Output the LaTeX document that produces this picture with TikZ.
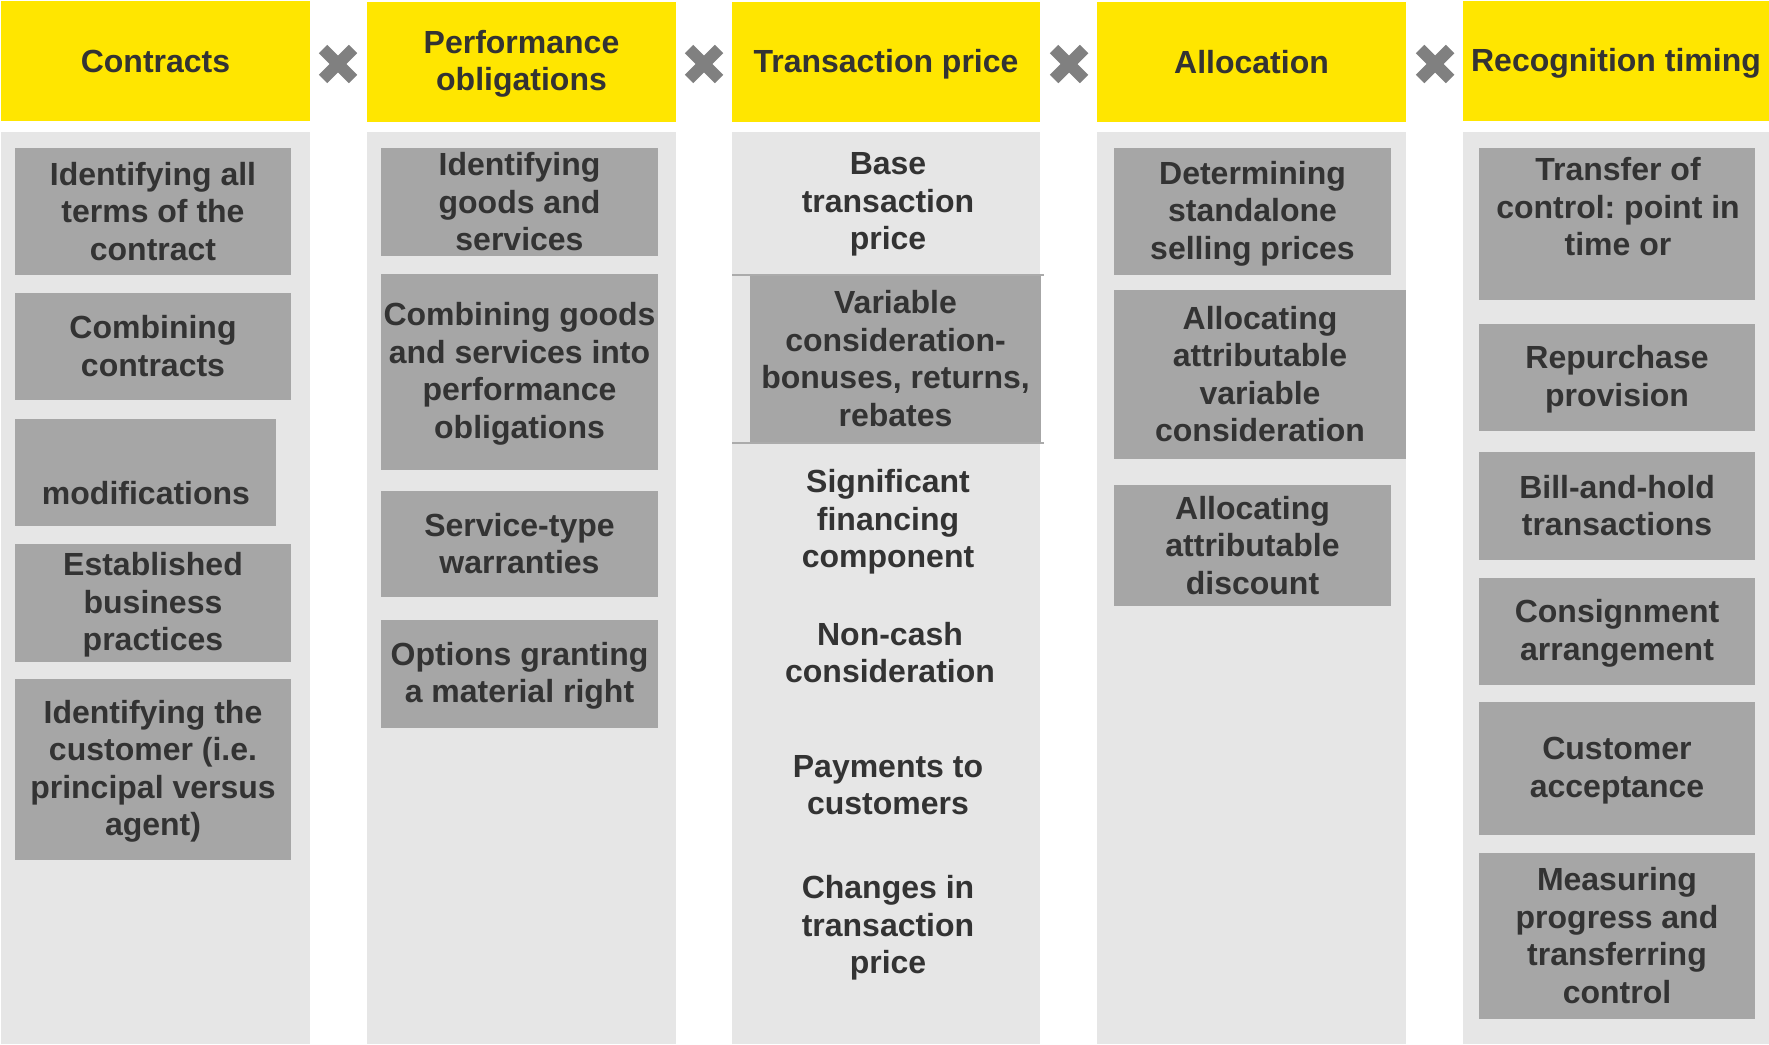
\documentclass[tikz,border=0pt]{standalone}
\usepackage{fontspec}
\setmainfont{Liberation Sans}
\frenchspacing
\definecolor{eyyellow}{HTML}{FFE600}
\definecolor{colbg}{HTML}{E6E6E6}
\definecolor{itembg}{HTML}{A6A6A6}
\definecolor{inkc}{HTML}{333333}
\definecolor{crossc}{HTML}{808080}
\definecolor{rulec}{HTML}{ABABAB}
% fixed ascent of the first line and descent of the last line
\newcommand\lines[1]{\rule{0pt}{27pt}#1\rule[-5pt]{0pt}{5pt}}
% name, fill style, x1, y1, x2, y2, text
\newcommand\tile[7]{%
  \node[lbl, #2, minimum width={(#5-#3)*1pt}, minimum height={(#6-#4)*1pt}]
    (#1) at ({(#3+#5)/2},{(#4+#6)/2}) {\lines{#7}};}
% cross sign between two headings
\newcommand\crossmark[2]{%
  \coordinate (#1) at (#2,64);
  \draw[crossline] ([shift={(-15,-15)}]#1) -- ([shift={(15,15)}]#1);
  \draw[crossline] ([shift={(-15,15)}]#1) -- ([shift={(15,-15)}]#1);}
\begin{document}
\begin{tikzpicture}[x=1pt,y=-1pt,
  lbl/.style={inner sep=0pt, outer sep=0pt, align=center, text=inkc,
    font=\fontsize{32}{37.5}\selectfont\bfseries},
  head/.style={fill=eyyellow},
  column/.style={fill=colbg, inner sep=0pt, minimum height=912pt},
  item/.style={fill=itembg},
  crossline/.style={draw=crossc, line width=12pt, line cap=butt},
  rule/.style={draw=rulec, line width=2pt}]
\useasboundingbox (0,0) rectangle (1769,1044);
\fill[white] (0,0) rectangle (1769,1044);

% headings
\tile{h1}{head}{1}{1}{310}{121}{Contracts}
\tile{h2}{head}{367}{2}{676}{122}{Performance\\obligations}
\tile{h3}{head}{732}{2}{1040}{122}{Transaction price}
\tile{h4}{head}{1097}{2}{1406}{122}{Allocation}
\tile{h5}{head}{1463}{1}{1769}{121}{Recognition timing}

\crossmark{x1}{338}
\crossmark{x2}{704}
\crossmark{x3}{1069}
\crossmark{x4}{1435}

% column panels
\node[column, minimum width=309pt] (c1) at (155.5,588) {};
\node[column, minimum width=309pt] (c2) at (521.5,588) {};
\node[column, minimum width=308pt] (c3) at (886,588) {};
\node[column, minimum width=309pt] (c4) at (1251.5,588) {};
\node[column, minimum width=306pt] (c5) at (1616,588) {};

% Contracts
\tile{a1}{item}{15}{148}{291}{275}{Identifying all\\terms of the\\contract}
\tile{a2}{item}{15}{293}{291}{400}{Combining\\contracts}
\tile{a3}{item}{15}{419}{276}{526}{}
\node[lbl] (a3t) at (146,493) {\lines{modifications}};
\tile{a4}{item}{15}{544}{291}{662}{Established\\business\\practices}
\tile{a5}{item}{15}{679}{291}{860}{Identifying the\\customer (i.e.\\principal versus\\agent)}

% Performance obligations
\tile{b1}{item}{381}{148}{658}{256}{Identifying\\goods and\\services}
\tile{b2}{item}{381}{274}{658}{470}{Combining goods\\and services into\\performance\\obligations}
\tile{b3}{item}{381}{491}{658}{597}{Service-type\\warranties}
\tile{b4}{item}{381}{620}{658}{728}{Options granting\\a material right}

% Transaction price
\node[lbl] (t1) at (888,202) {\lines{Base\\transaction\\price}};
\draw[rule] (732,275) -- (1044,275);
\draw[rule] (732,443) -- (1044,443);
\tile{t2}{item}{750}{276}{1041}{442}{Variable\\consideration-\\bonuses, returns,\\rebates}
\node[lbl] (t3) at (888,520) {\lines{Significant\\financing\\component}};
\node[lbl] (t4) at (890,653) {\lines{Non-cash\\consideration}};
\node[lbl] (t5) at (888,785) {\lines{Payments to\\customers}};
\node[lbl] (t6) at (888,926) {\lines{Changes in\\transaction\\price}};

% Allocation
\tile{d1}{item}{1114}{148}{1391}{275}{Determining\\standalone\\selling prices}
\tile{d2}{item}{1114}{290}{1406}{459}{Allocating\\attributable\\variable\\consideration}
\tile{d3}{item}{1114}{485}{1391}{606}{Allocating\\attributable\\discount}

% Recognition timing
\tile{e1}{item}{1479}{148}{1755}{300}{}
\node[lbl] (e1t) at (1618,207) {\lines{Transfer of\\control: point in\\time or}};
\tile{e2}{item}{1479}{324}{1755}{431}{Repurchase\\provision}
\tile{e3}{item}{1479}{452}{1755}{560}{Bill-and-hold\\transactions}
\tile{e4}{item}{1479}{578}{1755}{685}{Consignment\\arrangement}
\tile{e5}{item}{1479}{702}{1755}{835}{Customer\\acceptance}
\tile{e6}{item}{1479}{853}{1755}{1019}{Measuring\\progress and\\transferring\\control}
\end{tikzpicture}
\end{document}
